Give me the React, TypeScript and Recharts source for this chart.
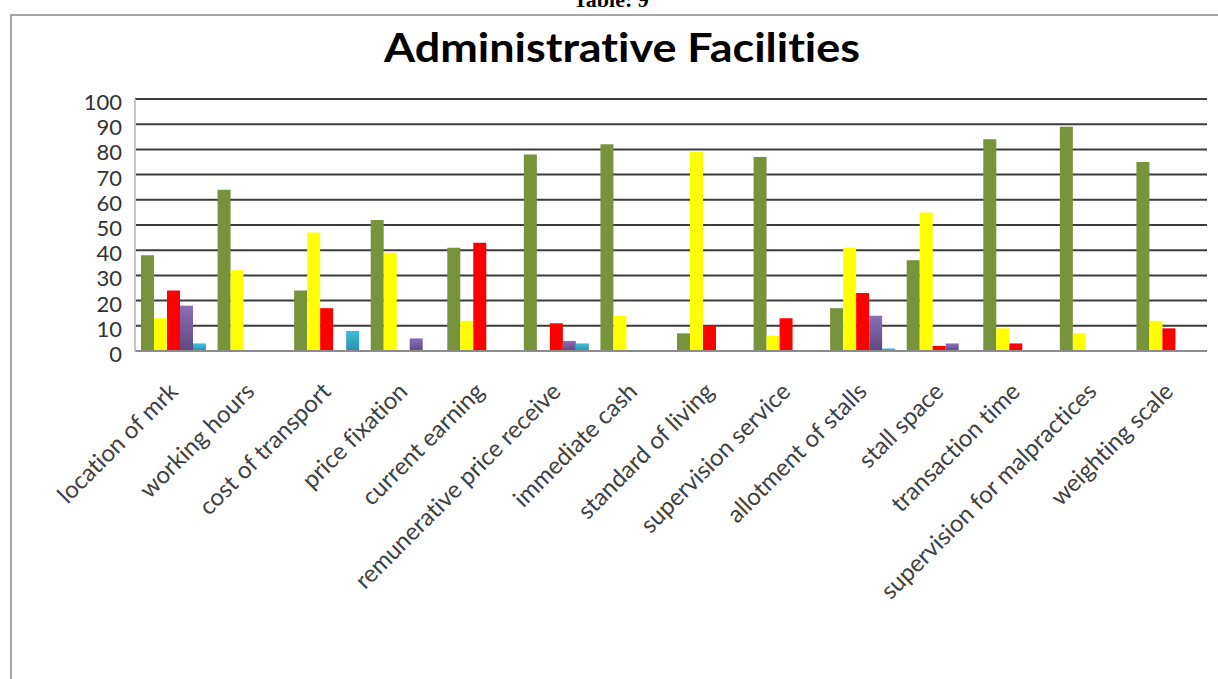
import { BarChart, Bar, XAxis, YAxis, CartesianGrid } from 'recharts';

const categories = [
  'location of mrk',
  'working hours',
  'cost of transport',
  'price fixation',
  'current earning',
  'remunerative price receive',
  'immediate cash',
  'standard of living',
  'supervision service',
  'allotment of stalls',
  'stall space',
  'transaction time',
  'supervision for malpractices',
  'weighting scale',
];

// five unnamed series
const series1 = [38, 64, 24, 52, 41, 78, 82, 7, 77, 17, 36, 84, 89, 75];
const series2 = [13, 32, 47, 39, 12, 0, 14, 79, 6, 41, 55, 9, 7, 12];
const series3 = [24, 0, 17, 0, 43, 11, 0, 10, 13, 23, 2, 3, 0, 9];
const series4 = [18, 0, 0, 5, 0, 4, 0, 0, 0, 14, 3, 0, 0, 0];
const series5 = [3, 0, 8, 0, 0, 3, 0, 0, 0, 1, 0, 0, 0, 0];

const yTicks = [0, 10, 20, 30, 40, 50, 60, 70, 80, 90, 100];

const data = categories.map((name, i) => ({
  name,
  s1: series1[i],
  s2: series2[i],
  s3: series3[i],
  s4: series4[i],
  s5: series5[i],
}));

const FONT = 'Lato, "Open Sans", sans-serif';
const noLig = { fontVariantLigatures: 'none' } as const;

const XTick = ({ x, y, payload }: any) => {
  const tx = x + 6;
  const ty = y + 42;
  return (
    <text
      x={tx}
      y={ty}
      transform={`rotate(-45, ${tx}, ${ty})`}
      textAnchor="end"
      fontSize={24}
      fontFamily={FONT}
      fill="#404040"
      style={noLig}
    >
      {payload.value}
    </text>
  );
};

const YTick = ({ x, y, payload }: any) => (
  <text
    x={x}
    y={y}
    dy={11}
    textAnchor="end"
    fontSize={22}
    fontFamily={FONT}
    fill="#333"
  >
    {payload.value}
  </text>
);

export default function App() {
  return (
    <div
      style={{
        position: 'absolute',
        left: 0,
        top: 0,
        width: 1218,
        height: 679,
        overflow: 'hidden',
        background: '#fff',
      }}
    >
      <div
        style={{
          position: 'absolute',
          left: 10,
          top: 14,
          width: 1260,
          height: 720,
          borderTop: '2px solid #a6a6a6',
          borderLeft: '2px solid #a6a6a6',
        }}
      />
      <svg width={1218} height={80} style={{ position: 'absolute', left: 0, top: 0 }}>
        <text
          x={611}
          y={7}
          textAnchor="middle"
          fontSize={22}
          fontWeight="bold"
          fontFamily='"Liberation Serif", serif'
          fill="#000"
        >
          Table: 9
        </text>
        <text
          x={622}
          y={62}
          textAnchor="middle"
          fontSize={41}
          fontWeight="bold"
          fontFamily={FONT}
          fill="#000"
          textLength={476}
          lengthAdjust="spacingAndGlyphs"
          style={noLig}
        >
          Administrative Facilities
        </text>
      </svg>
      <div style={{ position: 'absolute', left: 0, top: 0 }}>
        <BarChart
          width={1218}
          height={679}
          data={data}
          margin={{ top: 99, right: 11, left: 75, bottom: 0 }}
          barCategoryGap={6}
          barGap={0}
        >
          <defs>
            <linearGradient id="gPurple" x1="0" y1="0" x2="0" y2="1">
              <stop offset="0%" stopColor="#8d6fb5" />
              <stop offset="100%" stopColor="#5e4880" />
            </linearGradient>
            <linearGradient id="gCyan" x1="0" y1="0" x2="0" y2="1">
              <stop offset="0%" stopColor="#3fbde0" />
              <stop offset="100%" stopColor="#2b8fab" />
            </linearGradient>
          </defs>
          <CartesianGrid vertical={false} stroke="#3c3c3c" strokeWidth={2} />
          <XAxis
            dataKey="name"
            interval={0}
            height={328}
            tickLine={false}
            tickSize={0}
            tickMargin={0}
            tick={<XTick />}
            axisLine={{ stroke: '#8c8c8c', strokeWidth: 2 }}
          />
          <YAxis
            domain={[0, 100]}
            ticks={yTicks}
            width={60}
            tickLine={false}
            tickSize={0}
            tickMargin={13}
            tick={<YTick />}
            axisLine={{ stroke: '#c4c4c4', strokeWidth: 2 }}
          />
          <YAxis
            yAxisId="right"
            orientation="right"
            width={0}
            tick={false}
            tickLine={false}
            axisLine={{ stroke: '#dedede', strokeWidth: 1 }}
          />
          <Bar dataKey="s1" name="Series 1" fill="#77933c" isAnimationActive={false} />
          <Bar dataKey="s2" name="Series 2" fill="#ffff00" isAnimationActive={false} />
          <Bar dataKey="s3" name="Series 3" fill="#ff0000" isAnimationActive={false} />
          <Bar dataKey="s4" name="Series 4" fill="url(#gPurple)" isAnimationActive={false} />
          <Bar dataKey="s5" name="Series 5" fill="url(#gCyan)" isAnimationActive={false} />
        </BarChart>
      </div>
    </div>
  );
}
